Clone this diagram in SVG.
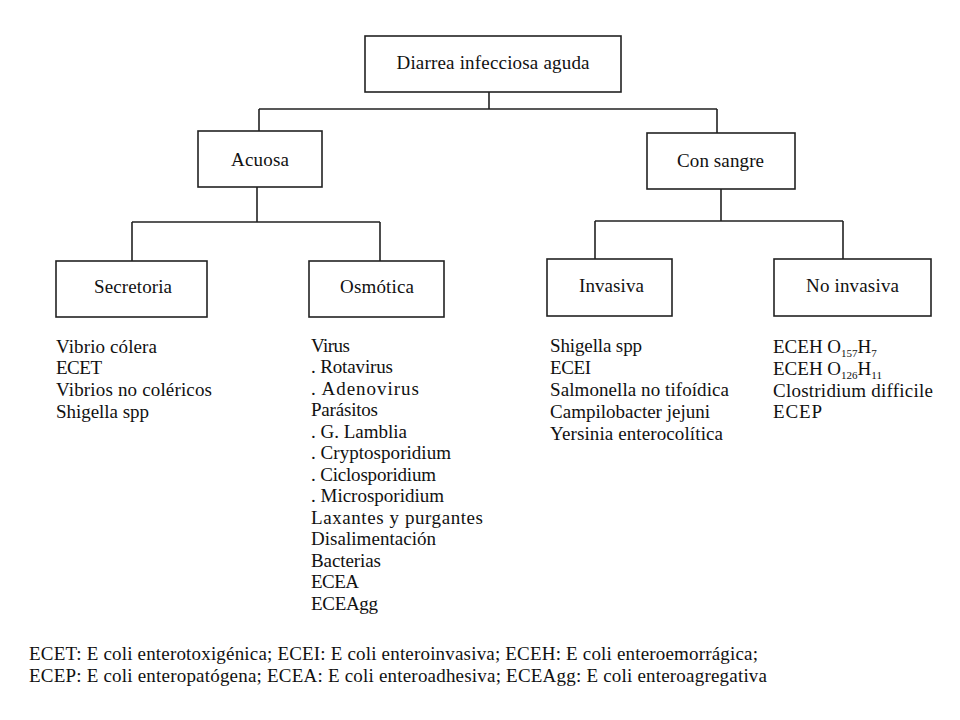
<svg xmlns="http://www.w3.org/2000/svg" width="960" height="720" viewBox="0 0 960 720">
<style>
.bg{fill:#ffffff}
.box{fill:#ffffff;stroke:#222;stroke-width:1.6}
.ln{fill:none;stroke:#222;stroke-width:1.6}
text{font-family:"Liberation Serif","Times New Roman",serif;font-size:19px;fill:#111}
.c{text-anchor:middle}
.sub{font-size:11px}
</style>
<rect class="bg" x="0" y="0" width="960" height="720"/>
<g id="connectors">
<path class="ln" d="M489,92 V109 M259,109 H717 M259,109 V131 M717,109 V133"/>
<path class="ln" d="M257,187 V222 M132,222 H380 M132,222 V261 M380,222 V261"/>
<path class="ln" d="M721,189 V221 M595,221 H843 M595,221 V259 M843,221 V259"/>
</g>
<g id="n-root">
<rect class="box" x="365" y="36" width="256" height="56"/>
<text class="c" x="493" y="68.5" textLength="193" lengthAdjust="spacing">Diarrea infecciosa aguda</text>
</g>
<g id="n-acuosa">
<rect class="box" x="198" y="131" width="124" height="56"/>
<text class="c" x="260" y="165.5" textLength="58" lengthAdjust="spacing">Acuosa</text>
</g>
<g id="n-consangre">
<rect class="box" x="647" y="133" width="148" height="56"/>
<text class="c" x="720.5" y="167" textLength="87" lengthAdjust="spacing">Con sangre</text>
</g>
<g id="n-secretoria">
<rect class="box" x="56" y="261" width="151" height="56"/>
<text class="c" x="133" y="292.7" textLength="78" lengthAdjust="spacing">Secretoria</text>
</g>
<g id="n-osmotica">
<rect class="box" x="309" y="261" width="135" height="56"/>
<text class="c" x="377" y="292.7" textLength="74" lengthAdjust="spacing">Osmótica</text>
</g>
<g id="n-invasiva">
<rect class="box" x="547" y="259" width="125" height="57"/>
<text class="c" x="611.5" y="291.7" textLength="65" lengthAdjust="spacing">Invasiva</text>
</g>
<g id="n-noinvasiva">
<rect class="box" x="774" y="259" width="157" height="57"/>
<text class="c" x="852.5" y="291.7" textLength="93" lengthAdjust="spacing">No invasiva</text>
</g>
<g id="list-secretoria">
<text x="56" y="352.7" textLength="101" lengthAdjust="spacing">Vibrio cólera</text>
<text x="56" y="374.4" textLength="46" lengthAdjust="spacing">ECET</text>
<text x="56" y="396" textLength="156" lengthAdjust="spacing">Vibrios no coléricos</text>
<text x="56" y="417.7" textLength="93" lengthAdjust="spacing">Shigella spp</text>
</g>
<g id="list-osmotica">
<text x="311" y="351.7" textLength="39" lengthAdjust="spacing">Virus</text>
<text x="311" y="373.2" textLength="82" lengthAdjust="spacing">. Rotavirus</text>
<text x="311" y="394.7" textLength="108" lengthAdjust="spacing">. Adenovirus</text>
<text x="311" y="416.2" textLength="67" lengthAdjust="spacing">Parásitos</text>
<text x="311" y="437.7" textLength="96" lengthAdjust="spacing">. G. Lamblia</text>
<text x="311" y="459.2" textLength="140" lengthAdjust="spacing">. Cryptosporidium</text>
<text x="311" y="480.7" textLength="125" lengthAdjust="spacing">. Ciclosporidium</text>
<text x="311" y="502.2" textLength="133" lengthAdjust="spacing">. Microsporidium</text>
<text x="311" y="523.7" textLength="172" lengthAdjust="spacing">Laxantes y purgantes</text>
<text x="311" y="545.2" textLength="125" lengthAdjust="spacing">Disalimentación</text>
<text x="311" y="566.7" textLength="70" lengthAdjust="spacing">Bacterias</text>
<text x="311" y="588.2" textLength="48" lengthAdjust="spacing">ECEA</text>
<text x="311" y="609.7" textLength="67" lengthAdjust="spacing">ECEAgg</text>
</g>
<g id="list-invasiva">
<text x="550" y="351.7" textLength="92" lengthAdjust="spacing">Shigella spp</text>
<text x="550" y="373.7" textLength="41" lengthAdjust="spacing">ECEI</text>
<text x="550" y="395.7" textLength="179" lengthAdjust="spacing">Salmonella no tifoídica</text>
<text x="550" y="417.7" textLength="160" lengthAdjust="spacing">Campilobacter jejuni</text>
<text x="550" y="439.7" textLength="173" lengthAdjust="spacing">Yersinia enterocolítica</text>
</g>
<g id="list-noinvasiva">
<text x="773" y="353">ECEH O<tspan class="sub" dy="4">157</tspan><tspan dy="-4">H</tspan><tspan class="sub" dy="4">7</tspan></text>
<text x="773" y="375">ECEH O<tspan class="sub" dy="4">126</tspan><tspan dy="-4">H</tspan><tspan class="sub" dy="4">11</tspan></text>
<text x="773" y="396.5" textLength="160" lengthAdjust="spacing">Clostridium difficile</text>
<text x="773" y="417.7" textLength="49" lengthAdjust="spacing">ECEP</text>
</g>
<g id="footnote">
<text x="29" y="660" textLength="729" lengthAdjust="spacing">ECET: E coli enterotoxigénica; ECEI: E coli enteroinvasiva; ECEH: E coli enteroemorrágica;</text>
<text x="29" y="681.5" textLength="738" lengthAdjust="spacing">ECEP: E coli enteropatógena; ECEA: E coli enteroadhesiva; ECEAgg: E coli enteroagregativa</text>
</g>
</svg>
